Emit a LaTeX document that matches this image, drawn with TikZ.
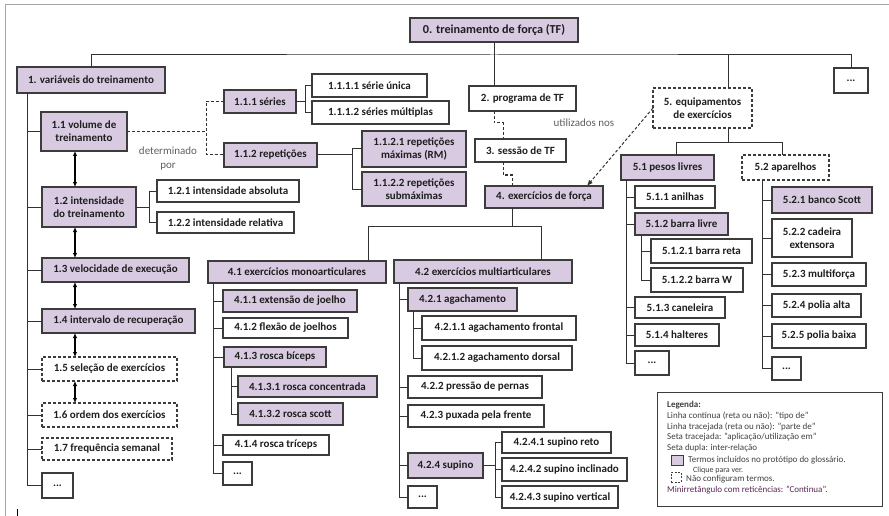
\documentclass[tikz,border=0pt]{standalone}
\usepackage{fontspec}
\setmainfont{Carlito}
\usetikzlibrary{arrows.meta,shadows}
\definecolor{lav}{RGB}{216,202,224}
\definecolor{bordc}{RGB}{60,60,60}
\definecolor{connc}{RGB}{50,50,50}
\definecolor{txtc}{RGB}{30,30,30}
\definecolor{lblc}{RGB}{95,95,95}
\definecolor{legp}{RGB}{90,40,85}
\newcommand\bx[7]{\node[#6, minimum width={(#4-#2)*1pt}, minimum height={(#5-#3)*1pt}] (#1) at ({(#2+#4)/2},{(#3+#5)/2}) {#7};}
\tikzset{
 box/.style={draw=bordc, line width=1.1pt, inner sep=0pt, outer sep=0pt, font=\bfseries\fontsize{11}{13}\selectfont, text=txtc, align=center},
 shad/.style={drop shadow={shadow xshift=0.9pt, shadow yshift=-0.9pt, fill=black!55, opacity=1}},
 pbox/.style={box, fill=lav, shad},
 wbox/.style={box, fill=white, shad},
 dbox/.style={box, fill=white, dash pattern=on 3pt off 2pt},
 conn/.style={draw=connc, line width=1pt},
 partof/.style={conn, dash pattern=on 3pt off 2pt},
 applies/.style={conn, dash pattern=on 3pt off 2pt, -{Latex[length=6pt,width=5pt]}},
 inter/.style={draw=black, line width=1.2pt, {Latex[length=5pt,width=4.5pt]}-{Latex[length=5pt,width=4.5pt]}},
 lbl/.style={font=\fontsize{11}{14}\selectfont, text=lblc, align=center, inner sep=0pt},
 legt/.style={font=\fontsize{9}{10}\selectfont, text=txtc!85, anchor=west, inner sep=0pt},
}
\begin{document}
\begin{tikzpicture}[x=1pt,y=-1pt]
\useasboundingbox (0,0) rectangle (889,516);
% frame
\draw[gray!70, line width=1pt] (5,516) -- (5,5) -- (889,5);
\draw[black, line width=0.8pt] (17,509) -- (17,516);

% top level
\bx{n0}{410}{18}{578}{42}{pbox, font=\bfseries\fontsize{12.2}{14}\selectfont}{0. treinamento de força (TF)}
\bx{n1}{17}{67}{165}{93}{pbox}{1. variáveis do treinamento}
\bx{nd0}{834}{68}{868}{93}{wbox}{...}
\bx{n2}{469}{86}{576}{111}{wbox}{2. programa de TF}
\bx{n3}{475}{139}{566}{162}{wbox}{3. sessão de TF}
\bx{n4}{485}{186}{603}{208}{pbox}{4. exercícios de força}
\bx{n5}{653}{88}{752}{128}{dbox}{5. equipamentos\\de exercícios}

% branch 1
\bx{n11}{41}{112}{127}{151}{pbox}{1.1 volume de\\treinamento}
\bx{n12}{42}{187}{136}{227}{pbox}{1.2 intensidade\\do treinamento}
\bx{n13}{42}{258}{189}{282}{pbox}{1.3 velocidade de execução}
\bx{n14}{42}{309}{195}{333}{pbox}{1.4 intervalo de recuperação}
\bx{n15}{42}{357}{177}{381}{dbox}{1.5 seleção de exercícios}
\bx{n16}{42}{403}{177}{427}{dbox}{1.6 ordem dos exercícios}
\bx{n17}{42}{438}{172}{460}{dbox}{1.7 frequência semanal}
\bx{n1d}{42}{473}{73}{498}{wbox}{...}

\bx{n111}{224}{90}{296}{113}{pbox}{1.1.1 séries}
\bx{n112}{224}{143}{317}{167}{pbox}{1.1.2 repetições}
\bx{n1111}{312}{74}{427}{97}{wbox}{1.1.1.1 série única}
\bx{n1112}{312}{101}{449}{124}{wbox}{1.1.1.2 séries múltiplas}
\bx{n1121}{362}{131}{466}{167}{pbox}{1.1.2.1 repetições\\máximas (RM)}
\bx{n1122}{362}{172}{466}{206}{pbox}{1.1.2.2 repetições\\submáximas}
\bx{n121}{157}{180}{299}{202}{wbox}{1.2.1 intensidade absoluta}
\bx{n122}{157}{212}{294}{233}{wbox}{1.2.2 intensidade relativa}

% branch 4
\bx{n41}{208}{261}{386}{283}{pbox}{4.1 exercícios monoarticulares}
\bx{n42}{394}{260}{572}{283}{pbox}{4.2 exercícios multiarticulares}
\bx{n411}{223}{290}{357}{312}{pbox}{4.1.1 extensão de joelho}
\bx{n412}{223}{318}{348}{338}{wbox}{4.1.2 flexão de joelhos}
\bx{n413}{224}{347}{326}{367}{pbox}{4.1.3 rosca bíceps}
\bx{n4131}{238}{376}{377}{397}{pbox}{4.1.3.1 rosca concentrada}
\bx{n4132}{238}{403}{343}{425}{pbox}{4.1.3.2 rosca scott}
\bx{n414}{223}{435}{329}{455}{wbox}{4.1.4 rosca tríceps}
\bx{n41d}{223}{462}{252}{485}{wbox}{...}

\bx{n421}{408}{288}{517}{311}{pbox}{4.2.1 agachamento}
\bx{n4211}{422}{316}{576}{340}{wbox}{4.2.1.1 agachamento frontal}
\bx{n4212}{422}{346}{572}{370}{wbox}{4.2.1.2 agachamento dorsal}
\bx{n422}{408}{376}{542}{398}{wbox}{4.2.2 pressão de pernas}
\bx{n423}{408}{405}{544}{427}{wbox}{4.2.3 puxada pela frente}
\bx{n424}{408}{453}{483}{478}{pbox}{4.2.4 supino}
\bx{n42d}{408}{486}{437}{508}{wbox}{...}
\bx{n4241}{502}{432}{611}{453}{wbox}{4.2.4.1 supino reto}
\bx{n4242}{502}{458}{627}{481}{wbox}{4.2.4.2 supino inclinado}
\bx{n4243}{502}{486}{618}{508}{wbox}{4.2.4.3 supino vertical}

% branch 5
\bx{n51}{621}{155}{714}{180}{pbox}{5.1 pesos livres}
\bx{n52}{742}{155}{829}{180}{dbox}{5.2 aparelhos}
\bx{n511}{635}{186}{715}{208}{wbox}{5.1.1 anilhas}
\bx{n512}{635}{213}{728}{235}{pbox}{5.1.2 barra livre}
\bx{n5121}{651}{239}{752}{263}{wbox}{5.1.2.1 barra reta}
\bx{n5122}{651}{268}{743}{292}{wbox}{5.1.2.2 barra W}
\bx{n513}{635}{297}{725}{318}{wbox}{5.1.3 caneleira}
\bx{n514}{635}{324}{719}{346}{wbox}{5.1.4 halteres}
\bx{n51d}{635}{351}{669}{375}{wbox}{...}
\bx{n521}{772}{187}{872}{213}{pbox}{5.2.1 banco Scott}
\bx{n522}{772}{219}{852}{257}{wbox}{5.2.2 cadeira\\extensora}
\bx{n523}{772}{263}{866}{286}{wbox}{5.2.3 multiforça}
\bx{n524}{772}{294}{861}{317}{wbox}{5.2.4 polia alta}
\bx{n525}{772}{324}{866}{348}{wbox}{5.2.5 polia baixa}
\bx{n52d}{772}{357}{801}{380}{wbox}{...}

% ---------- connectors ----------
\coordinate (bus) at (494,55);
\coordinate (c5) at (728,55);
\draw[conn] (n1.north) |- (bus) -| (nd0.north);
\draw[conn] (n0.south -| bus) -- (bus |- n2.north);
\draw[conn] (c5) -- (c5 |- n5.north);

% branch 1 spine
\coordinate (t1) at (27,0);
\draw[conn] (t1 |- n1.south) -- (t1 |- n1d.west);
\foreach \n in {n11,n12,n13,n14,n15,n16,n17,n1d}{\draw[conn] (t1 |- \n.west) -- (\n.west);}
% inter-relations
\coordinate (ax) at (75,0);
\draw[inter] (ax |- n11.south) -- (ax |- n12.north);
\draw[inter] (ax |- n12.south) -- (ax |- n13.north);
\draw[inter] (ax |- n13.south) -- (ax |- n14.north);
\draw[inter] (ax |- n14.south) -- (ax |- n15.north);
\draw[inter] (ax |- n15.south) -- (ax |- n16.north);
% 1.1 part-of
\coordinate (dd) at (206,0);
\draw[partof] (n11.east) -- (dd |- n11.east);
\draw[partof] (n111.west) -| (dd |- n112.west) -- (n112.west);
\node[lbl] (ldet) at (168,159) {determinado\\por};
% 1.1.1
\coordinate (b111) at (305,0);
\draw[conn] (n111.east) -- (b111 |- n111.east);
\draw[conn] (n1111.west) -| (b111 |- n1112.west) -- (n1112.west);
% 1.1.2
\coordinate (b112) at (352,0);
\draw[conn] (n112.east) -- (b112 |- n112.east);
\draw[conn] (n1121.west) -| (b112 |- n1122.west) -- (n1122.west);
% 1.2
\coordinate (b12) at (149,0);
\draw[conn] (n12.east) -- (b12 |- n12.east);
\draw[conn] (n121.west) -| (b12 |- n122.west) -- (n122.west);

% 2 -> 3 -> 4 part-of
\coordinate (p2) at (494,123);
\coordinate (p3) at (503,123);
\draw[partof] (p2 |- n2.south) -- (p2) -- (p3) -- (p3 |- n3.north);
\coordinate (q3) at (503,175);
\coordinate (q4) at (512,175);
\draw[partof] (q3 |- n3.south) -- (q3) -- (q4) -- (q4 |- n4.north);
% 5 -> 4 application
\draw[applies] (n5.west) -- ([xshift=-16pt]n4.north east);
\node[lbl] (lutil) at (584,123) {utilizados nos};

% branch 4
\coordinate (h4) at (512,226);
\coordinate (x41) at (368,226);
\coordinate (x42) at (541,226);
\draw[conn] (h4 |- n4.south) -- (h4);
\draw[conn] (x41 |- n41.north) -- (x41) -- (x42) -- (x42 |- n42.north);
\coordinate (t41) at (213,0);
\draw[conn] (t41 |- n41.south) -- (t41 |- n41d.west);
\foreach \n in {n411,n412,n413,n414,n41d}{\draw[conn] (t41 |- \n.west) -- (\n.west);}
\coordinate (t413) at (231,0);
\draw[conn] (t413 |- n413.south) -- (t413 |- n4132.west);
\foreach \n in {n4131,n4132}{\draw[conn] (t413 |- \n.west) -- (\n.west);}
\coordinate (t42) at (399,0);
\draw[conn] (t42 |- n42.south) -- (t42 |- n42d.west);
\foreach \n in {n421,n422,n423,n424,n42d}{\draw[conn] (t42 |- \n.west) -- (\n.west);}
\coordinate (t421) at (413,0);
\draw[conn] (t421 |- n421.south) -- (t421 |- n4212.west);
\foreach \n in {n4211,n4212}{\draw[conn] (t421 |- \n.west) -- (\n.west);}
\coordinate (t424) at (495,0);
\draw[conn] (n424.east) -- (t424 |- n424.east);
\draw[conn] (t424 |- n4241.west) -- (t424 |- n4243.west);
\foreach \n in {n4241,n4242,n4243}{\draw[conn] (t424 |- \n.west) -- (\n.west);}

% branch 5
\coordinate (h5) at (728,143);
\coordinate (x51) at (676,143);
\coordinate (x52) at (782,143);
\draw[conn] (h5 |- n5.south) -- (h5);
\draw[conn] (x51 |- n51.north) -- (x51) -- (x52) -- (x52 |- n52.north);
\coordinate (t51) at (626,0);
\draw[conn] (t51 |- n51.south) -- (t51 |- n51d.west);
\foreach \n in {n511,n512,n513,n514,n51d}{\draw[conn] (t51 |- \n.west) -- (\n.west);}
\coordinate (t512) at (641,0);
\draw[conn] (t512 |- n512.south) -- (t512 |- n5122.west);
\foreach \n in {n5121,n5122}{\draw[conn] (t512 |- \n.west) -- (\n.west);}
\coordinate (t52) at (762,0);
\draw[conn] (t52 |- n52.south) -- (t52 |- n52d.west);
\foreach \n in {n521,n522,n523,n524,n525,n52d}{\draw[conn] (t52 |- \n.west) -- (\n.west);}

% legend
\node[draw=bordc, line width=1pt, fill=white, minimum width=225pt, minimum height=114pt, inner sep=0pt] (leg) at (769.5,449.5) {};
\node[legt] (lg1) at (667,405) {\textbf{Legenda:}};
\node[legt] (lg2) at (667,416) {Linha contínua (reta ou não): "tipo de"};
\node[legt] (lg3) at (667,427) {Linha tracejada (reta ou não): "parte de"};
\node[legt] (lg4) at (667,437) {Seta tracejada: "aplicação/utilização em"};
\node[legt] (lg5) at (667,448) {Seta dupla: inter-relação};
\node[draw=bordc, line width=0.8pt, fill=lav, minimum width=12pt, minimum height=10pt, inner sep=0pt] (lgsq) at (677,460) {};
\node[legt] (lg6) at (688,460) {Termos incluídos no protótipo do glossário.};
\node[legt, font=\fontsize{8}{9}\selectfont] (lg7) at (693,470) {Clique para ver.};
\node[draw=bordc, line width=0.8pt, dash pattern=on 2pt off 1.5pt, minimum width=10pt, minimum height=10pt, inner sep=0pt] (lgds) at (676,477) {};
\node[legt] (lg8) at (686,479) {Não configuram termos.};
\node[legt, text=legp] (lg9) at (667,490) {Minirretângulo com reticências: "Continua".};
\end{tikzpicture}
\end{document}
